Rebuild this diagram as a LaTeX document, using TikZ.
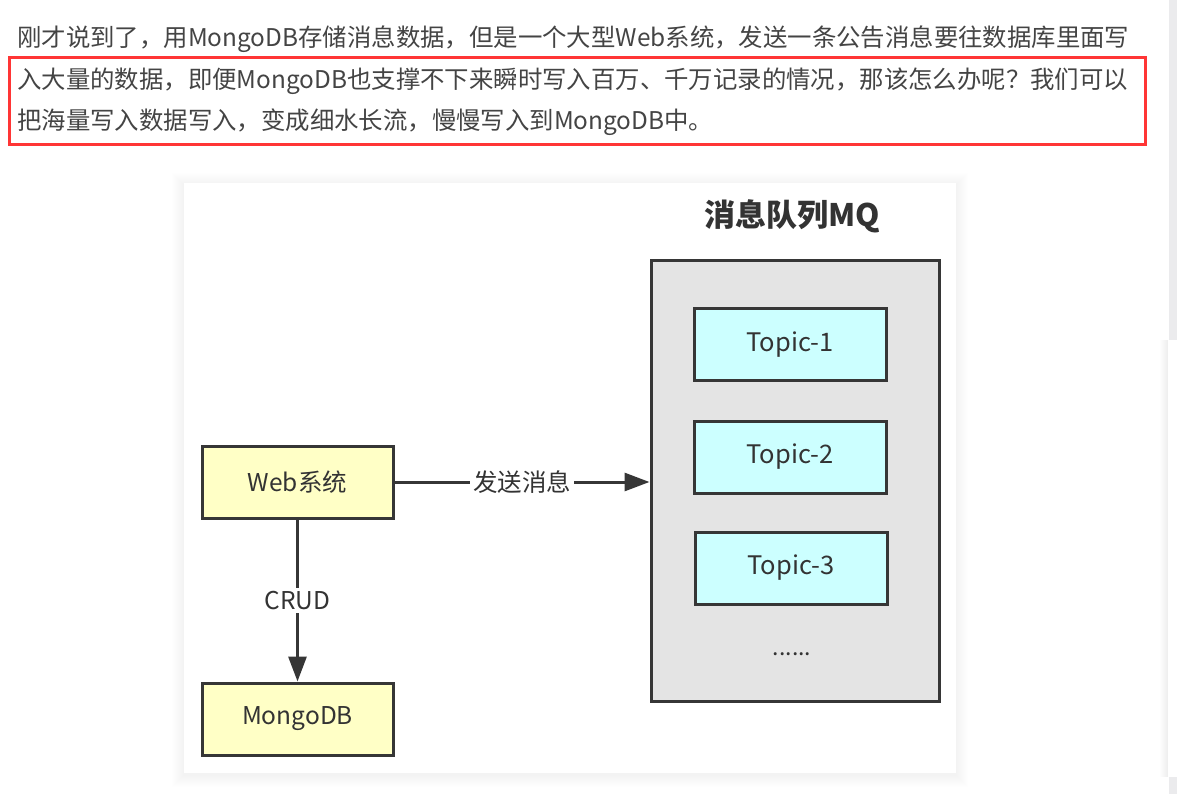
\documentclass[tikz,border=0pt]{standalone}
\usepackage{fontspec}
\setmainfont{Noto Sans CJK SC}
\usetikzlibrary{arrows.meta}
\definecolor{txt}{HTML}{333333}
\definecolor{para}{HTML}{444444}
\definecolor{redbox}{HTML}{FF3535}
\definecolor{yel}{HTML}{FFFFC6}
\definecolor{cyanbox}{HTML}{CCFFFF}
\definecolor{mqgray}{HTML}{E4E4E4}
\definecolor{edge}{HTML}{363636}
\definecolor{stripe}{HTML}{EBEBED}
\tikzset{
  paraline/.style={anchor=west, inner sep=0pt, text=para, font=\fontsize{24.4}{28}\selectfont},
  ybox/.style={draw=edge, line width=3pt, fill=yel, minimum width=191pt, minimum height=72pt, text=txt, font=\fontsize{24.5}{28}\selectfont, inner sep=0pt},
  tbox/.style={draw=edge, line width=3pt, fill=cyanbox, minimum width=192pt, minimum height=72pt, text=txt, font=\fontsize{25.5}{29}\selectfont, inner sep=0pt},
  conn/.style={draw=edge, line width=3pt},
  lbl/.style={fill=white, text=txt, font=\fontsize{24.5}{28}\selectfont, inner sep=3pt},
  tip/.style={-{Triangle[length=25pt,width=18pt]}}
}
\begin{document}
\begin{tikzpicture}[x=1pt,y=-1pt]
\useasboundingbox (0,0) rectangle (1177,794);
\fill[white] (0,0) rectangle (1177,794);
% right browser strip
\fill[stripe] (1169,0) rectangle (1177,340);
\fill[stripe] (1169,777) rectangle (1177,794);
\foreach \i in {1,...,8}{\fill[black,opacity=0.006] (1168-\i,340) rectangle (1177,777);}
\fill[white] (1168,340) rectangle (1177,777);
% paragraph
\node[paraline] (l1) at (17,39) {刚才说到了，用MongoDB存储消息数据，但是一个大型Web系统，发送一条公告消息要往数据库里面写};
\node[paraline] (l2) at (17,81) {入大量的数据，即便MongoDB也支撑不下来瞬时写入百万、千万记录的情况，那该怎么办呢？我们可以};
\node[paraline] (l3) at (17,122) {把海量写入数据写入，变成细水长流，慢慢写入到MongoDB中。};
\draw[redbox, line width=3.5pt] (9.5,57.5) rectangle (1145.5,144.5);
% panel shadow
\foreach \i in {1,...,12}{\fill[black,opacity=0.005] (184-\i,183-\i+2) rectangle (956+\i,773+\i+2);}
\fill[white] (184,183) rectangle (956,773);
% diagram
\node[font=\bfseries\fontsize{31}{35}\selectfont, text=txt] (title) at (792,216) {消息队列MQ};
\node[draw=edge, line width=3pt, fill=mqgray, minimum width=288pt, minimum height=440pt] (mq) at (795,481) {};
\node[tbox] (t1) at (790,344.5) {Topic-1};
\node[tbox] (t2) at (790,457) {Topic-2};
\node[tbox] (t3) at (791,568) {Topic-3};
\node[text=txt, font=\fontsize{23}{27}\selectfont] (dots) at (792,654) {......};
\node[ybox] (web) at (297.5,482) {Web系统};
\node[ybox] (mongo) at (297.5,719) {MongoDB};
\draw[conn, tip] (web.east) -- node[lbl] {发送消息} (web.east -| mq.west);
\draw[conn, tip] (web.south) -- node[lbl] {CRUD} (mongo.north);
\end{tikzpicture}
\end{document}
